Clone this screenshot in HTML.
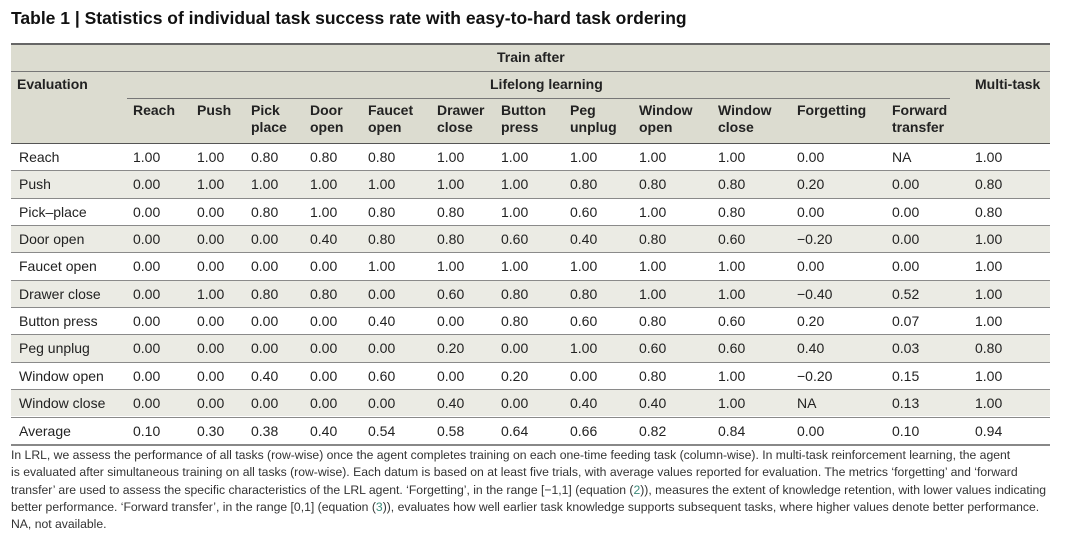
<!DOCTYPE html>
<html><head><meta charset="utf-8">
<style>
html,body{margin:0;padding:0;background:#fff;}
body{width:1080px;height:541px;position:relative;overflow:hidden;font-family:"Liberation Sans",sans-serif;color:#222;}
.a{position:absolute;white-space:nowrap;}
.h{font-weight:bold;font-size:14px;line-height:17px;color:#222;}
.c{font-size:14px;color:#222;}
.ln{position:absolute;height:1px;background:#777;}
.cap{position:absolute;left:11px;width:1069px;font-size:12.2px;line-height:17.3px;color:#333;top:447px;white-space:nowrap;}
.cap span.n{color:#3c8a7a;}
</style></head><body>
<div class="a" style="left:11px;top:8px;font-size:17.5px;font-weight:bold;color:#111;">Table 1 | Statistics of individual task success rate with easy-to-hard task ordering</div>
<div style="position:absolute;left:11px;top:44px;width:1039px;height:99px;background:#dcdcd0;"></div>
<div class="ln" style="left:11px;top:43px;width:1039px;height:2px;background:#666;"></div>
<div class="ln" style="left:11px;top:71px;width:1039px;"></div>
<div class="ln" style="left:127px;top:98px;width:823px;"></div>
<div class="a h" style="left:497px;top:49px;">Train after</div>
<div class="a h" style="left:17px;top:76px;">Evaluation</div>
<div class="a h" style="left:490px;top:76px;">Lifelong learning</div>
<div class="a h" style="left:975px;top:76px;">Multi-task</div>
<div id="tbl"></div>
<div class="cap">In LRL, we assess the performance of all tasks (row-wise) once the agent completes training on each one-time feeding task (column-wise). In multi-task reinforcement learning, the agent<br>is evaluated after simultaneous training on all tasks (row-wise). Each datum is based on at least five trials, with average values reported for evaluation. The metrics ‘forgetting’ and ‘forward<br>transfer’ are used to assess the specific characteristics of the LRL agent. ‘Forgetting’, in the range [−1,1] (equation (<span class="n">2</span>)), measures the extent of knowledge retention, with lower values indicating<br>better performance. ‘Forward transfer’, in the range [0,1] (equation (<span class="n">3</span>)), evaluates how well earlier task knowledge supports subsequent tasks, where higher values denote better performance.<br>NA, not available.</div>
<script>
const colHeaders=[["Reach"],["Push"],["Pick","place"],["Door","open"],["Faucet","open"],["Drawer","close"],["Button","press"],["Peg","unplug"],["Window","open"],["Window","close"],["Forgetting"],["Forward","transfer"]];
const rowLabels=["Reach","Push","Pick–place","Door open","Faucet open","Drawer close","Button press","Peg unplug","Window open","Window close","Average"];
const rows=[
["1.00","1.00","0.80","0.80","0.80","1.00","1.00","1.00","1.00","1.00","0.00","NA","1.00"],
["0.00","1.00","1.00","1.00","1.00","1.00","1.00","0.80","0.80","0.80","0.20","0.00","0.80"],
["0.00","0.00","0.80","1.00","0.80","0.80","1.00","0.60","1.00","0.80","0.00","0.00","0.80"],
["0.00","0.00","0.00","0.40","0.80","0.80","0.60","0.40","0.80","0.60","−0.20","0.00","1.00"],
["0.00","0.00","0.00","0.00","1.00","1.00","1.00","1.00","1.00","1.00","0.00","0.00","1.00"],
["0.00","1.00","0.80","0.80","0.00","0.60","0.80","0.80","1.00","1.00","−0.40","0.52","1.00"],
["0.00","0.00","0.00","0.00","0.40","0.00","0.80","0.60","0.80","0.60","0.20","0.07","1.00"],
["0.00","0.00","0.00","0.00","0.00","0.20","0.00","1.00","0.60","0.60","0.40","0.03","0.80"],
["0.00","0.00","0.40","0.00","0.60","0.00","0.20","0.00","0.80","1.00","−0.20","0.15","1.00"],
["0.00","0.00","0.00","0.00","0.00","0.40","0.00","0.40","0.40","1.00","NA","0.13","1.00"],
["0.10","0.30","0.38","0.40","0.54","0.58","0.64","0.66","0.82","0.84","0.00","0.10","0.94"]];
const colX=[133,197,251,310,368,437,501,570,639,718,797,892,975];
const tbl=document.getElementById('tbl');
colHeaders.forEach((h,i)=>{
  const d=document.createElement('div');
  d.className='a h';
  
  
  d.style.left=colX[i]+'px';d.style.top='102px';
  d.innerHTML=h.join('<br>');
  tbl.appendChild(d);
});
const top0=143,rh=27.35;
rowLabels.forEach((lab,r)=>{
  const y=top0+r*rh;
  const bg=document.createElement('div');
  
  
  bg.style.cssText='position:absolute;left:11px;width:1039px;top:'+y+'px;height:'+rh+'px;background:'+(r%2? '#ebebe4':'#fff')+';border-top:1px solid '+(r==0?'#555':'#8a8a8a')+';box-sizing:border-box;';
  tbl.appendChild(bg);
  const l=document.createElement('div');
  l.className='a c';
  
  
  l.style.left='19px';l.style.top=(y+6)+'px';l.textContent=lab;
  tbl.appendChild(l);
  rows[r].forEach((v,i)=>{
    const c=document.createElement('div');
    c.className='a c';
    
    
    c.style.left=colX[i]+'px';c.style.top=(y+6)+'px';c.textContent=v;
    tbl.appendChild(c);
  });
});
const bot=document.createElement('div');


bot.style.cssText='position:absolute;left:11px;width:1039px;height:2px;background:#888;top:'+(top0+11*rh)+'px;';
tbl.appendChild(bot);
</script>
</body></html>
